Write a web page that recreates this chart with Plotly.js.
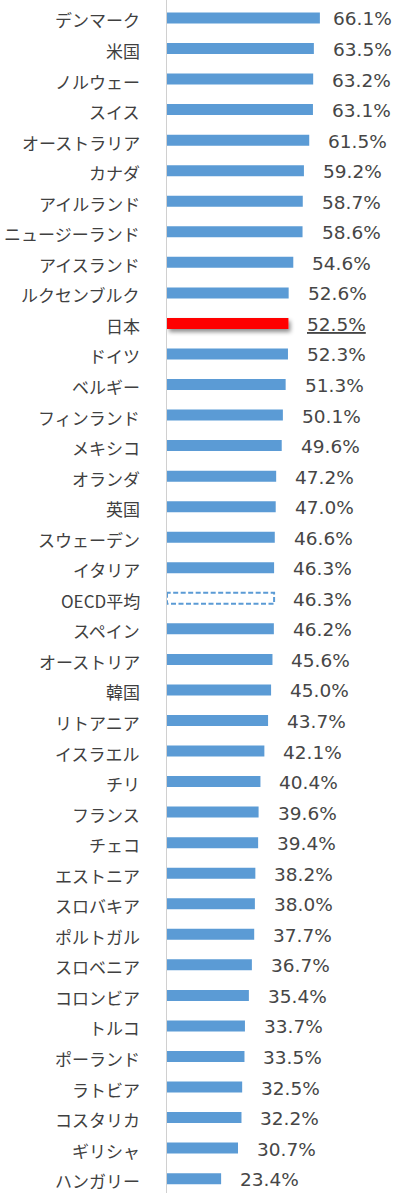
<!DOCTYPE html>
<html><head><meta charset="utf-8">
<script src="https://cdn.plot.ly/plotly-3.0.1.min.js"></script>
<style>html,body{margin:0;padding:0;background:#fff;}#chart{width:405px;height:1193px;}</style>
</head><body><div id="chart"></div>
<script>
const countries = ["デンマーク","米国","ノルウェー","スイス","オーストラリア","カナダ","アイルランド","ニュージーランド","アイスランド","ルクセンブルク","日本","ドイツ","ベルギー","フィンランド","メキシコ","オランダ","英国","スウェーデン","イタリア","OECD平均","スペイン","オーストリア","韓国","リトアニア","イスラエル","チリ","フランス","チェコ","エストニア","スロバキア","ポルトガル","スロベニア","コロンビア","トルコ","ポーランド","ラトビア","コスタリカ","ギリシャ","ハンガリー"];
const values = [66.1,63.5,63.2,63.1,61.5,59.2,58.7,58.6,54.6,52.6,52.5,52.3,51.3,50.1,49.6,47.2,47.0,46.6,46.3,46.3,46.2,45.6,45.0,43.7,42.1,40.4,39.6,39.4,38.2,38.0,37.7,36.7,35.4,33.7,33.5,32.5,32.2,30.7,23.4];
const highlight = "日本";
const average = "OECD平均";

const BLUE = "#5b9bd5", RED = "#ff0000", TXT = "#404040";
const plotW = 405 - 167;
const xMax = 102.9;
const pxPer = plotW / xMax;
const idx = countries.map((c,i)=>i);

const colors = countries.map(c => c === highlight ? RED : (c === average ? "#ffffff" : BLUE));
const lineColors = countries.map(c => c === average ? BLUE : "rgba(0,0,0,0)");
const lineWidths = countries.map(c => c === average ? 2 : 0);

const trace = {
  type: "bar", orientation: "h",
  x: values, y: idx,
  marker: {color: colors, line: {color: lineColors, width: lineWidths}},
  width: 0.36,
  hoverinfo: "skip"
};

const labelMaxPx = 164;
const valueAnns = values.map((v,i) => {
  const isJ = countries[i] === highlight;
  const xx = Math.min(v, (labelMaxPx - 17) / pxPer);
  const t = v.toFixed(1) + "%";
  return {
    x: xx, y: i, xref: "x", yref: "y", xanchor: "left", yanchor: "middle",
    xshift: 17, yshift: -1, showarrow: false,
    text: isJ ? "<u>" + t + "</u>" : t,
    font: {family: "'DejaVu Sans', sans-serif", size: 18.5, color: "#464646"}
  };
});
const catAnns = countries.map((c,i) => ({
  x: 0, y: i, xref: "paper", yref: "y", xanchor: "right", yanchor: "middle",
  xshift: -25, yshift: -2, showarrow: false, text: c,
  font: {family: "'Noto Sans CJK JP', sans-serif", size: 17, color: TXT}
}));

const layout = {
  width: 405, height: 1193,
  margin: {l: 167, r: 0, t: 0, b: 0, pad: 0},
  paper_bgcolor: "#fff", plot_bgcolor: "#fff",
  showlegend: false,
  xaxis: {range: [0, xMax], visible: false, fixedrange: true},
  yaxis: {
    range: [38.47, -0.589],
    showticklabels: false,
    showline: true, linecolor: "#d0d0d0", linewidth: 1.5,
    showgrid: false, zeroline: false, ticks: ""
  },
  annotations: catAnns.concat(valueAnns)
};

Plotly.newPlot("chart", [trace], layout, {displayModeBar: false, staticPlot: true}).then(gd => {
  const svg = gd.querySelector("svg.main-svg");
  const ns = "http://www.w3.org/2000/svg";
  let defs = svg.querySelector("defs");
  const f = document.createElementNS(ns, "filter");
  f.setAttribute("id", "jshadow");
  f.setAttribute("x", "-10%"); f.setAttribute("y", "-100%");
  f.setAttribute("width", "130%"); f.setAttribute("height", "400%");
  const ds = document.createElementNS(ns, "feDropShadow");
  ds.setAttribute("dx", "2"); ds.setAttribute("dy", "3");
  ds.setAttribute("stdDeviation", "2");
  ds.setAttribute("flood-color", "#000"); ds.setAttribute("flood-opacity", "0.45");
  f.appendChild(ds); defs.appendChild(f);
  const pts = gd.querySelectorAll(".barlayer .point path");
  pts.forEach((p, i) => {
    if (countries[i] === highlight) p.setAttribute("filter", "url(#jshadow)");
    if (countries[i] === average) { p.style.strokeDasharray = "5,2.5"; }
  });
});
</script></body></html>
